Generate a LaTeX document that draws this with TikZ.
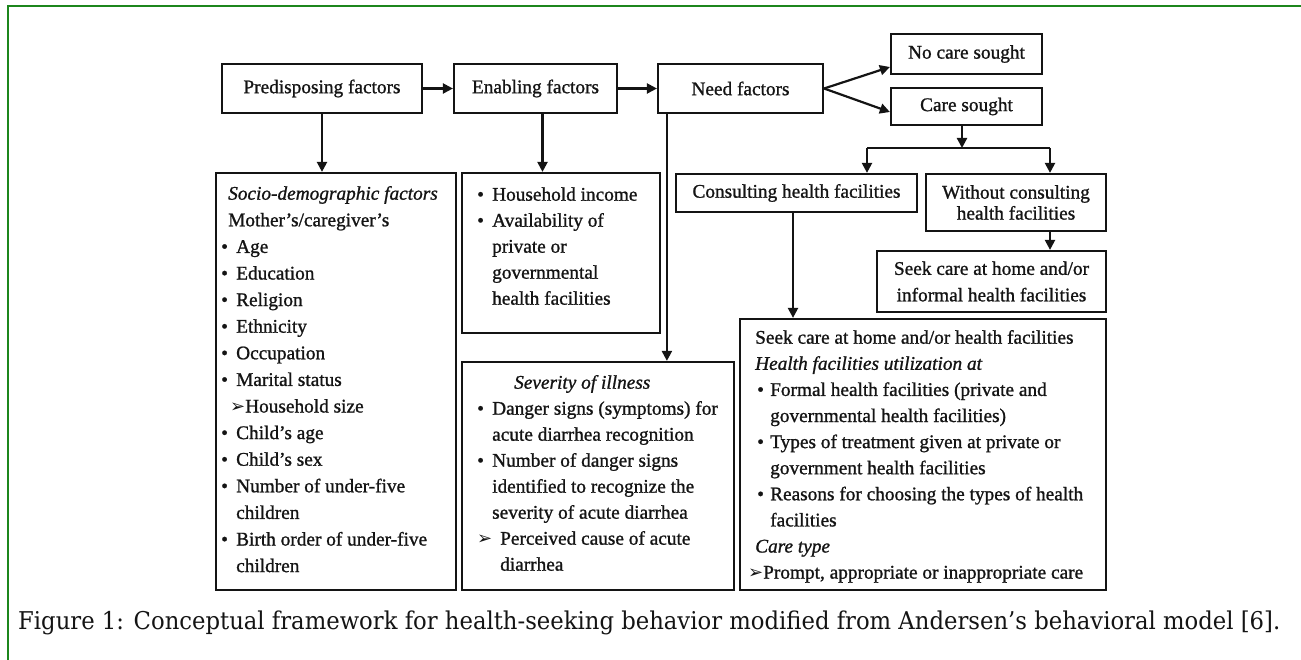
\documentclass[tikz,border=0pt]{standalone}
\usepackage{fontspec}
\usepackage{graphicx}
\setmainfont{Liberation Serif}
\newfontfamily\df{Liberation Serif}[FakeBold=1.1]
\newfontfamily\dv{DejaVu Sans}
\newfontfamily\capf{DejaVu Serif}
\usetikzlibrary{arrows.meta}
\definecolor{frameg}{RGB}{28,134,28}
\definecolor{ink}{RGB}{20,20,20}
\newcommand\bl[1][15pt]{\makebox[#1][l]{•}}
\newcommand\ar[1][15pt]{\makebox[#1][l]{{\dv\fontsize{18}{18}\selectfont ➢}}}
\begin{document}
\begin{tikzpicture}[x=1pt,y=-1pt,
  box/.style={draw=ink,line width=2.2pt,inner sep=0pt,font=\df\fontsize{19.3}{22}\selectfont,align=center,text=ink},
  txt/.style={inner sep=0pt,anchor=north west,align=left,text=ink},
  arr/.style={draw=ink,line width=2.2pt,-{Triangle[length=10pt,width=10pt]}},
  ln/.style={draw=ink,line width=2.2pt}]
\useasboundingbox (0,0) rectangle (1301,660);
\draw[frameg,line width=2.5pt] (8,660) -- (8,6) -- (1301,6);

% top row
\node[box,minimum width=200pt,minimum height=49pt] (pre) at (322,88.5) {Predisposing factors};
\node[box,minimum width=163pt,minimum height=49pt] (ena) at (535.5,88.5) {Enabling factors};
\node[box,minimum width=165pt,minimum height=49pt] (need) at (740.5,88.5) {Need factors};
\node[box,minimum width=151pt,minimum height=40pt] (nocare) at (966.5,54) {No care sought};
\node[box,minimum width=151pt,minimum height=37pt] (care) at (966.5,106.5) {Care sought};
\node[box,minimum width=241pt,minimum height=38pt] (cons) at (796.5,193) {Consulting health facilities};
\node[box,minimum width=180pt,minimum height=57pt,font=\df\fontsize{19.3}{21}\selectfont] (without) at (1016,202.5) {Without consulting\\health facilities};
\node[box,minimum width=229pt,minimum height=61pt,font=\df\fontsize{19.3}{26.5}\selectfont] (informal) at (991.5,281.5) {Seek care at home and/or\\informal health facilities};

% big boxes
\node[box,minimum width=240pt,minimum height=417pt] (socio) at (336,381.5) {};
\node[box,minimum width=198pt,minimum height=160pt] (enabl) at (561,253) {};
\node[box,minimum width=272pt,minimum height=228pt] (sev) at (598,476) {};
\node[box,minimum width=366pt,minimum height=271pt] (seek) at (923,454.5) {};

\node[txt,font=\df\fontsize{19.3}{26.6}\selectfont] (socioT) at (221,185.5) {\rule{0pt}{14pt}\hspace*{7pt}\textit{Socio-demographic factors}\\
\hspace*{7pt}Mother’s/caregiver’s\\
\bl Age\\
\bl Education\\
\bl Religion\\
\bl Ethnicity\\
\bl Occupation\\
\bl Marital status\\
\hspace*{9pt}\ar Household size\\
\bl Child’s age\\
\bl Child’s sex\\
\bl Number of under-five\\
\hspace*{15pt}children\\
\bl Birth order of under-five\\
\hspace*{15pt}children};

\node[txt,font=\df\fontsize{19.3}{26}\selectfont] (enablT) at (477,186.5) {\rule{0pt}{14pt}\bl Household income\\
\bl Availability of\\
\hspace*{15pt}private or\\
\hspace*{15pt}governmental\\
\hspace*{15pt}health facilities};

\node[txt,font=\df\fontsize{19.3}{26}\selectfont] (sevT) at (477,374.5) {\rule{0pt}{14pt}\hspace*{37pt}\textit{Severity of illness}\\
\bl Danger signs (symptoms) for\\
\hspace*{15pt}acute diarrhea recognition\\
\bl Number of danger signs\\
\hspace*{15pt}identified to recognize the\\
\hspace*{15pt}severity of acute diarrhea\\
\ar[23pt]Perceived cause of acute\\
\hspace*{23pt}diarrhea};

\node[txt,font=\df\fontsize{19.3}{26.1}\selectfont] (seekT) at (748,329.5) {\rule{0pt}{14pt}\hspace*{7pt}Seek care at home and/or health facilities\\
\hspace*{7pt}\textit{Health facilities utilization at}\\
\hspace*{9pt}\bl[13pt]Formal health facilities (private and\\
\hspace*{22pt}governmental health facilities)\\
\hspace*{9pt}\bl[13pt]Types of treatment given at private or\\
\hspace*{22pt}government health facilities\\
\hspace*{9pt}\bl[13pt]Reasons for choosing the types of health\\
\hspace*{22pt}facilities\\
\hspace*{7pt}\textit{Care type}\\
\ar[15pt]Prompt, appropriate or inappropriate care};

% connectors
\draw[arr] (pre.east) -- (ena.west);
\draw[arr] (ena.east) -- (need.west);
\draw[arr] (pre.south) -- (pre.south |- socio.north);
\draw[arr] ([xshift=7pt]ena.south) -- ([xshift=7pt]ena.south |- enabl.north);
\draw[arr] ([xshift=10pt]need.south west) -- ([xshift=10pt]need.south west |- sev.north);
\draw[arr] (need.east) -- ([yshift=-13pt]nocare.west);
\draw[arr] (need.east) -- ([yshift=-5.5pt]care.west);
\coordinate (j) at (962,148);
\coordinate (jl) at (867,148);
\coordinate (jr) at (1050,148);
\draw[arr] (j |- care.south) -- (j);
\draw[ln] (jl) -- (jr);
\draw[arr] (jl) -- (jl |- cons.north);
\draw[arr] (jr) -- (jr |- without.north);
\draw[arr] ([xshift=-3.5pt]cons.south) -- ([xshift=-3.5pt]cons.south |- seek.north);
\draw[arr] (jr |- without.south) -- (jr |- informal.north);

% caption
\node[anchor=base west,inner sep=0pt,text=ink] (cap) at (18,629) {\resizebox{1262pt}{\height}{\capf\fontsize{24.5}{28}\selectfont Figure 1: Conceptual framework for health-seeking behavior modified from Andersen’s behavioral model [6].}};
\end{tikzpicture}
\end{document}
